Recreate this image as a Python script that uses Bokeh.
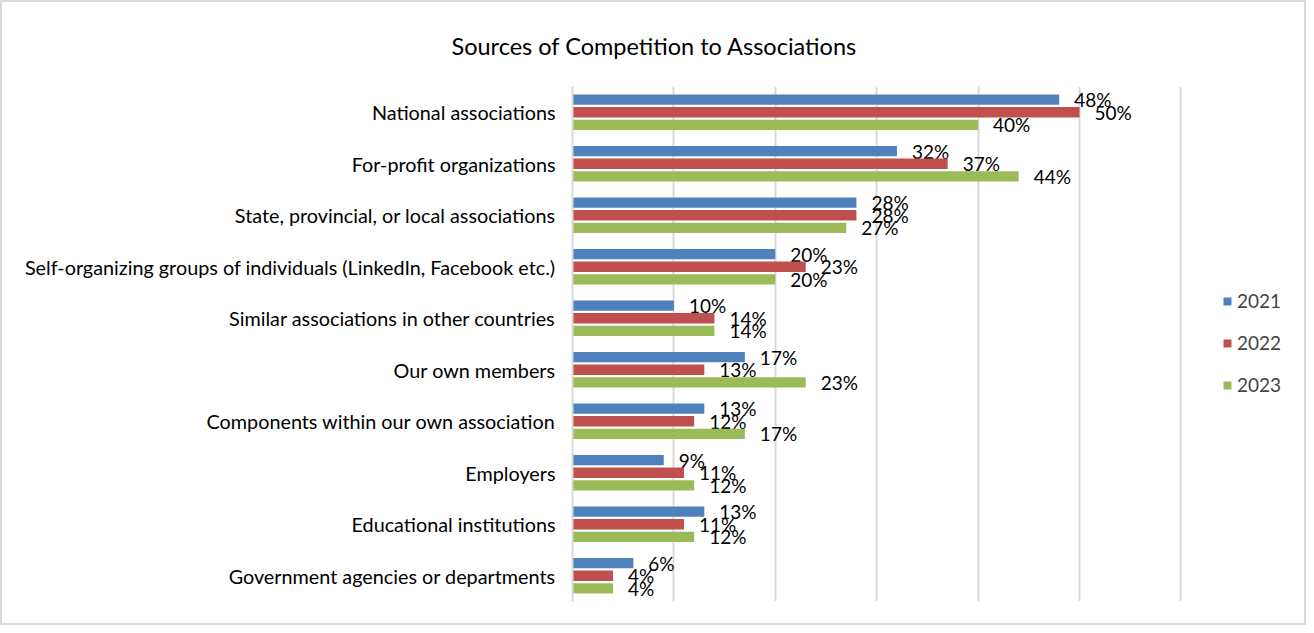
from bokeh.plotting import figure
from bokeh.models import Range1d, FixedTicker, Legend, LegendItem, ColumnDataSource
from bokeh.transform import dodge
from bokeh.core.properties import value
from bokeh.embed import file_html
from bokeh.resources import INLINE

categories = [
    "National associations",
    "For-profit organizations",
    "State, provincial, or local associations",
    "Self-organizing groups of individuals (LinkedIn, Facebook etc.)",
    "Similar associations in other countries",
    "Our own members",
    "Components within our own association",
    "Employers",
    "Educational institutions",
    "Government agencies or departments",
]
series_names = ["2021", "2022", "2023"]
v2021 = [48, 32, 28, 20, 10, 17, 13, 9, 13, 6]
v2022 = [50, 37, 28, 23, 14, 13, 12, 11, 11, 4]
v2023 = [40, 44, 27, 20, 14, 23, 17, 12, 12, 4]
grid_ticks = [0, 10, 20, 30, 40, 50, 60]
colors = ["#4F81BD", "#C0504D", "#9BBB59"]

FONT = "Lato"

factors = list(reversed(categories))

p = figure(
    width=1306, height=625,
    y_range=factors,
    x_range=Range1d(0, 71.8),
    output_backend="svg",
    toolbar_location=None,
    min_border_left=570, min_border_right=8,
    min_border_top=84, min_border_bottom=26,
    title="Sources of Competition to Associations",
)
p.outline_line_color = None
p.background_fill_color = "white"
p.border_fill_color = "white"
p.styles = {"border": "2px solid #D9D9D9"}

p.title.align = "left"
p.title.offset = -121
p.title.standoff = 54
p.title.text_font = FONT
p.title.text_font_size = "23.5px"
p.title.text_font_style = "normal"
p.title.text_color = "#000000"

p.xaxis.visible = False
p.xgrid.ticker = FixedTicker(ticks=grid_ticks)
p.xgrid.grid_line_color = "#D9D9D9"
p.xgrid.grid_line_width = 2
p.ygrid.grid_line_color = None

yax = p.yaxis[0]
yax.axis_line_color = "#D9D9D9"
yax.axis_line_width = 2
yax.major_tick_line_color = None
yax.minor_tick_line_color = None
yax.major_tick_out = 0
yax.major_tick_in = 0
yax.major_label_standoff = 17
yax.major_label_text_font = FONT
yax.major_label_text_font_size = "19.8px"
yax.major_label_text_color = "#000000"

offsets = [0.245, 0.0, -0.245]
vals = [v2021, v2022, v2023]
renderers = []
for name, vv, off, col in zip(series_names, vals, offsets, colors):
    src = ColumnDataSource(dict(cat=categories, v=vv, lab=[f"{x}%" for x in vv]))
    r = p.hbar(y=dodge("cat", off, range=p.y_range), right="v", left=0, height=0.2,
               source=src, fill_color=col, line_color=None)
    renderers.append(r)
    p.text(x="v", y=dodge("cat", off, range=p.y_range), text="lab", source=src,
           x_offset=15, text_baseline="middle", text_align="left",
           text_font=value(FONT), text_font_size="19px", text_color="#000000")

legend = Legend(
    items=[LegendItem(label=n, renderers=[r]) for n, r in zip(series_names, renderers)],
    location=(650, 205),
    border_line_color=None,
    background_fill_alpha=0,
    glyph_width=10, glyph_height=10,
    label_height=23,
    label_text_font=FONT, label_text_font_size="19px",
    label_text_baseline="middle",
    spacing=19, padding=0, margin=0,
)
p.add_layout(legend)

open("out.html", "w").write(file_html(p, INLINE))
